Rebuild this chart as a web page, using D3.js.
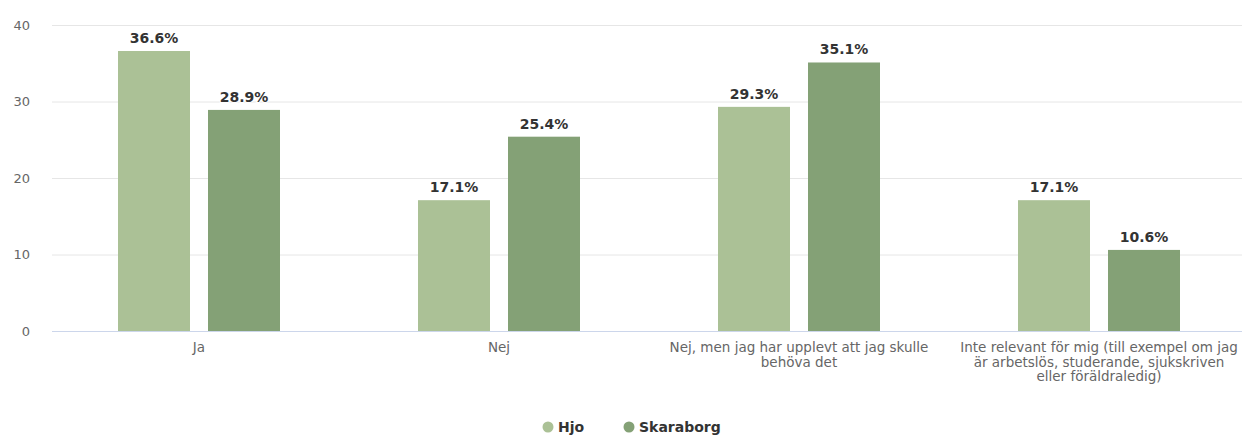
<!DOCTYPE html>
<html>
<head>
<meta charset="utf-8">
<script src="https://cdn.jsdelivr.net/npm/d3@7"></script>
<style>
  html, body { margin: 0; padding: 0; background: #fff; }
  svg { display: block; font-family: "DejaVu Sans", sans-serif; }
</style>
</head>
<body>
<svg id="chart" width="1242" height="437"></svg>
<script>
const categories = [
  "Ja",
  "Nej",
  "Nej, men jag har upplevt att jag skulle behöva det",
  "Inte relevant för mig (till exempel om jag är arbetslös, studerande, sjukskriven eller föräldraledig)"
];
const categoryLines = [
  ["Ja"],
  ["Nej"],
  ["Nej, men jag har upplevt att jag skulle", "behöva det"],
  ["Inte relevant för mig (till exempel om jag", "är arbetslös, studerande, sjukskriven", "eller föräldraledig)"]
];
const seriesNames = ["Hjo", "Skaraborg"];
const hjoValues = [36.6, 17.1, 29.3, 17.1];
const skaraborgValues = [28.9, 25.4, 35.1, 10.6];
const yTicks = [0, 10, 20, 30, 40];
const colors = ["#abc196", "#84a176"];

const svg = d3.select("#chart");
const plotLeft = 49, plotRight = 1249, plotTop = 25, plotBottom = 331;

const x = d3.scaleBand().domain(categories).range([plotLeft, plotRight]).paddingInner(0).paddingOuter(0);
const xInner = d3.scaleBand().domain(seriesNames).range([0, x.bandwidth()]).paddingInner(0.2).paddingOuter(0.7667);
const y = d3.scaleLinear().domain([0, 40]).range([plotBottom, plotTop]);

// grid
const gGrid = svg.append("g");
gGrid.selectAll("line").data(yTicks.filter(t => t > 0)).join("line")
  .attr("x1", 52).attr("x2", 1242)
  .attr("y1", d => y(d) + 0.5).attr("y2", d => y(d) + 0.5)
  .attr("stroke", "#e6e6e6").attr("stroke-width", 1);

// y axis labels
const yAxis = d3.axisLeft(y).tickValues(yTicks).tickSize(0).tickPadding(0);
const gy = svg.append("g").attr("transform", "translate(30,0)").call(yAxis);
gy.select(".domain").remove();
gy.selectAll("text").attr("fill", "#666").attr("font-size", 13).attr("font-family", "DejaVu Sans");

// bars
const data = [];
categories.forEach((c, i) => {
  data.push({cat: c, s: seriesNames[0], v: hjoValues[i], color: colors[0]});
  data.push({cat: c, s: seriesNames[1], v: skaraborgValues[i], color: colors[1]});
});
const gBars = svg.append("g");
gBars.selectAll("rect").data(data).join("rect")
  .attr("x", d => x(d.cat) + xInner(d.s))
  .attr("width", xInner.bandwidth())
  .attr("y", d => y(d.v))
  .attr("height", d => y(0) - y(d.v))
  .attr("fill", d => d.color);

// x axis line
svg.append("line").attr("x1", 52).attr("x2", 1242)
  .attr("y1", plotBottom + 0.5).attr("y2", plotBottom + 0.5)
  .attr("stroke", "#ccd6eb").attr("stroke-width", 1);

// data labels
svg.append("g").selectAll("text").data(data).join("text")
  .attr("x", d => x(d.cat) + xInner(d.s) + xInner.bandwidth() / 2)
  .attr("y", d => y(d.v) - 8)
  .attr("text-anchor", "middle")
  .attr("font-size", 14).attr("font-weight", "bold")
  .attr("fill", "#333")
  .attr("stroke", "#fff").attr("stroke-width", 2).attr("paint-order", "stroke")
  .text(d => d.v.toFixed(1) + "%");

// x labels
const gx = svg.append("g");
categories.forEach((c, i) => {
  const t = gx.append("text")
    .attr("x", x(c) + x.bandwidth() / 2)
    .attr("y", 352)
    .attr("text-anchor", "middle")
    .attr("font-size", 13.5).attr("fill", "#666");
  categoryLines[i].forEach((ln, j) => {
    t.append("tspan").attr("x", x(c) + x.bandwidth() / 2).attr("dy", j === 0 ? 0 : 14.5).text(ln);
  });
});

// legend
const legend = svg.append("g");
const legendX = [548, 629];
seriesNames.forEach((s, i) => {
  legend.append("circle").attr("cx", legendX[i]).attr("cy", 427).attr("r", 5.5).attr("fill", colors[i]);
  legend.append("text").attr("x", legendX[i] + 10).attr("y", 432)
    .attr("font-size", 14).attr("font-weight", "bold").attr("fill", "#333").text(s);
});
</script>
</body>
</html>
